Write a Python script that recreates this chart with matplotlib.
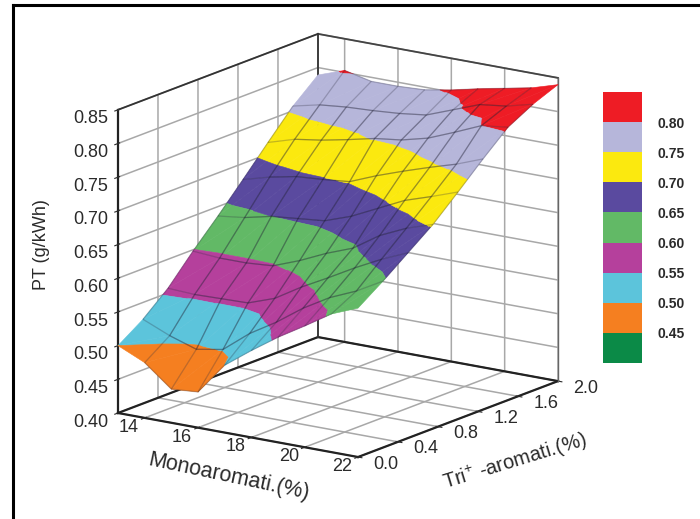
import numpy as np
import matplotlib
matplotlib.use("Agg")
import matplotlib.pyplot as plt
from matplotlib.colors import ListedColormap, BoundaryNorm
from matplotlib.cm import ScalarMappable
from matplotlib.lines import Line2D
from matplotlib.transforms import ScaledTranslation
from mpl_toolkits.mplot3d import proj3d
from mpl_toolkits.mplot3d.art3d import Poly3DCollection

plt.rcParams['font.family'] = ['Liberation Sans', 'DejaVu Sans']
plt.rcParams['mathtext.default'] = 'regular'
plt.rcParams['grid.color'] = '#a8a8a8'
plt.rcParams['grid.linewidth'] = 1.1

mono_values = [13, 14, 15, 16, 17, 18, 19, 20, 21, 22]
tri_values = [0, 0.25, 0.5, 0.75, 1.0, 1.25, 1.5, 1.75, 2.0]
pt_mono13 = [.500, .525, .557, .598, .636, .676, .717, .757, .789]
pt_mono14 = [.482, .508, .555, .595, .641, .687, .729, .766, .803]
pt_mono15 = [.450, .495, .556, .595, .650, .695, .735, .770, .794]
pt_mono16 = [.453, .502, .557, .598, .654, .698, .743, .772, .794]
pt_mono17 = [.500, .533, .571, .613, .658, .702, .752, .775, .796]
pt_mono18 = [.529, .557, .595, .631, .672, .718, .757, .780, .803]
pt_mono19 = [.556, .585, .616, .646, .691, .732, .767, .795, .812]
pt_mono20 = [.580, .608, .638, .672, .710, .745, .783, .810, .820]
pt_mono21 = [.605, .625, .658, .690, .723, .757, .800, .815, .828]
pt_mono22 = [.621, .647, .675, .703, .737, .772, .805, .825, .840]
pt_columns = [pt_mono13, pt_mono14, pt_mono15, pt_mono16, pt_mono17,
              pt_mono18, pt_mono19, pt_mono20, pt_mono21, pt_mono22]

mono_ticks = [14, 16, 18, 20, 22]
tri_ticks = [0.0, 0.4, 0.8, 1.2, 1.6, 2.0]
pt_ticks = [0.40, 0.45, 0.50, 0.55, 0.60, 0.65, 0.70, 0.75, 0.80, 0.85]
band_levels = [0.40, 0.45, 0.50, 0.55, 0.60, 0.65, 0.70, 0.75, 0.80, 0.85]
band_colors = ['#0B8A47', '#F57F20', '#5CC4DB', '#B5409C', '#62B966',
               '#5A4A9F', '#FBE90F', '#B6B6DA', '#EE1C25']
legend_ticks = [0.45, 0.50, 0.55, 0.60, 0.65, 0.70, 0.75, 0.80]

W, H = 700, 519
fig = plt.figure(figsize=(W / 100, H / 100), dpi=100, facecolor='white')
ax = fig.add_axes([0, 0, 1, 1], projection='3d', computed_zorder=False,
                  proj_type='ortho')
ax.view_init(elev=15.3, azim=-55.2)
ax.set_box_aspect((292, 350, 314))
ax.patch.set_alpha(0)
xlim = (mono_values[0], mono_values[-1])
ylim = (tri_values[0], tri_values[-1])
zlim = (pt_ticks[0], pt_ticks[-1])
ax.set_xlim(*xlim)
ax.set_ylim(*ylim)
ax.set_zlim(*zlim)
ax.set_xticks(mono_ticks)
ax.set_yticks(tri_ticks)
ax.set_zticks(pt_ticks)
ax.set_xticklabels([str(v) for v in mono_ticks])
ax.set_yticklabels([f'{v:.1f}' for v in tri_ticks])
ax.set_zticklabels([f'{v:.2f}' for v in pt_ticks])
ax.tick_params(labelsize=13, colors='#2a2a2a')
ax.tick_params(axis='x', pad=1)
ax.tick_params(axis='y', pad=1)
ax.tick_params(axis='z', pad=2)
ax.zaxis.set_ticks_position('lower')
for a in (ax.xaxis, ax.yaxis, ax.zaxis):
    a.set_pane_color((1, 1, 1, 1))
    a.pane.set_edgecolor('white')
    a.line.set_color('#222222')
    a.line.set_linewidth(1.6)


def nudge_tick_labels(axis, dx, dy):
    """Shift an axis' tick labels by (dx, dy) pixels at 100 dpi.

    Axis3D.get_major_ticks resets the label transforms on every call, so the
    offset has to be applied after it.
    """
    original = axis.get_major_ticks
    offset = ScaledTranslation(dx / 100, dy / 100, fig.dpi_scale_trans)

    def patched(numticks=None):
        ticks = original(numticks)
        for tick in ticks:
            tick.label1.set_transform(ax.transData + offset)
        return ticks
    axis.get_major_ticks = patched


nudge_tick_labels(ax.xaxis, -7, 16)
nudge_tick_labels(ax.yaxis, 17, 17)
nudge_tick_labels(ax.zaxis, -5, 1)


def split_band(tri, lo, hi):
    """Clip a triangle of (x, y, z) vertices to lo <= z <= hi."""
    for level, keep_above in ((lo, True), (hi, False)):
        out = []
        for i in range(len(tri)):
            p, q = tri[i], tri[(i + 1) % len(tri)]
            pin = (p[2] >= level) == keep_above
            qin = (q[2] >= level) == keep_above
            if pin:
                out.append(p)
            if pin != qin:
                f = (level - p[2]) / (q[2] - p[2])
                out.append(tuple(p[k] + f * (q[k] - p[k]) for k in range(3)))
        tri = out
        if not tri:
            return []
    return tri


Z = np.array(pt_columns)
polys, colors = [], []
for i in range(len(mono_values) - 1):
    for j in range(len(tri_values) - 1):
        a = (mono_values[i], tri_values[j], Z[i, j])
        b = (mono_values[i + 1], tri_values[j], Z[i + 1, j])
        c = (mono_values[i + 1], tri_values[j + 1], Z[i + 1, j + 1])
        d = (mono_values[i], tri_values[j + 1], Z[i, j + 1])
        for tri in ((a, b, c), (a, c, d)):
            for k, col in enumerate(band_colors):
                piece = split_band(list(tri), band_levels[k], band_levels[k + 1])
                if len(piece) >= 3:
                    polys.append(piece)
                    colors.append(col)

surface = Poly3DCollection(polys, facecolors=colors, edgecolors=colors,
                           linewidths=0.4, zorder=5)
ax.add_collection3d(surface)

X, Y = np.meshgrid(mono_values, tri_values, indexing='ij')
ax.plot_wireframe(X[:, 1:-1], Y[:, 1:-1], Z[:, 1:-1], color='#1c1c30', linewidth=0.9,
                  alpha=0.25, zorder=6)
ax.plot_wireframe(X[1:-1, :], Y[1:-1, :], Z[1:-1, :], color='#1c1c30', linewidth=0.9,
                  alpha=0.25, zorder=6)

# dark frame edges of the box
ax.plot(xlim[:1] * 2, ylim, [zlim[0]] * 2, lw=1.6, color='#222222', zorder=4)
ax.plot(xlim, ylim[1:] * 2, [zlim[0]] * 2, lw=1.6, color='#222222', zorder=4)
ax.plot(xlim[:1] * 2, ylim, [zlim[1]] * 2, lw=1.3, color='#333333', zorder=4)
ax.plot(xlim, ylim[1:] * 2, [zlim[1]] * 2, lw=1.3, color='#444444', zorder=4)
ax.plot(xlim[:1] * 2, ylim[1:] * 2, zlim, lw=1.3, color='#333333', zorder=4)
ax.plot(xlim[1:] * 2, ylim[1:] * 2, zlim, lw=1.0, color='#666666', zorder=4)

# Fit the axes box so that the 3D frame lands where it does in the reference.
target_a = np.array([118.0, H - 413.0])
target_b = np.array([558.0, H - 381.0])
S = 600.0
cx, cy = W / 2, H / 2
for _ in range(4):
    ax.set_position([(cx - S / 2) / W, (cy - S / 2) / H, S / W, S / H])
    fig.canvas.draw()
    M = ax.get_proj()
    pts = []
    for p in ((xlim[0], ylim[0], zlim[0]), (xlim[1], ylim[1], zlim[0])):
        u, v, _w = proj3d.proj_transform(*p, M)
        pts.append(ax.transData.transform((u, v)))
    pa, pb = np.array(pts)
    S *= np.linalg.norm(target_b - target_a) / np.linalg.norm(pb - pa)
    ax.set_position([(cx - S / 2) / W, (cy - S / 2) / H, S / W, S / H])
    fig.canvas.draw()
    M = ax.get_proj()
    u, v, _w = proj3d.proj_transform(xlim[0], ylim[0], zlim[0], M)
    pa = ax.transData.transform((u, v))
    cx += target_a[0] - pa[0]
    cy += target_a[1] - pa[1]
ax.set_position([(cx - S / 2) / W, (cy - S / 2) / H, S / W, S / H])

fig.text(42 / W, 1 - 245 / H, 'PT (g/kWh)', rotation=90, ha='center', va='center',
         fontsize=13, color='#2a2a2a')
fig.text(229 / W, 1 - 477 / H, 'Monoaromati.(%)', rotation=-12, ha='center',
         va='center', fontsize=15.5, color='#2a2a2a', rotation_mode='anchor')
fig.text(515 / W, 1 - 462 / H, 'Tri$^{+}$ -aromati.(%)', rotation=17, ha='center',
         va='center', fontsize=14.5, color='#2a2a2a', rotation_mode='anchor')

cax = fig.add_axes([603 / W, 1 - 363 / H, 39 / W, 271 / H])
norm = BoundaryNorm(band_levels, len(band_colors))
cb = fig.colorbar(ScalarMappable(norm=norm, cmap=ListedColormap(band_colors)),
                  cax=cax, ticks=legend_ticks, spacing='uniform')
cb.outline.set_visible(False)
cb.ax.tick_params(length=0, pad=11.5, labelsize=10)
cb.ax.set_yticklabels([f'{v:.2f}' for v in legend_ticks], fontweight='bold',
                      color='#2a2a2a')
cb.ax.minorticks_off()

# page frame: only the left and top rules exist in the reference
fig.add_artist(Line2D([12.5 / W, 12.5 / W], [0, 1 - 4.5 / H], transform=fig.transFigure,
                      color='black', linewidth=2.2, solid_capstyle='projecting'))
fig.add_artist(Line2D([12.5 / W, 1], [1 - 4.5 / H, 1 - 4.5 / H], transform=fig.transFigure,
                      color='black', linewidth=2.2, solid_capstyle='projecting'))
fig.savefig('out.png', dpi=100)
